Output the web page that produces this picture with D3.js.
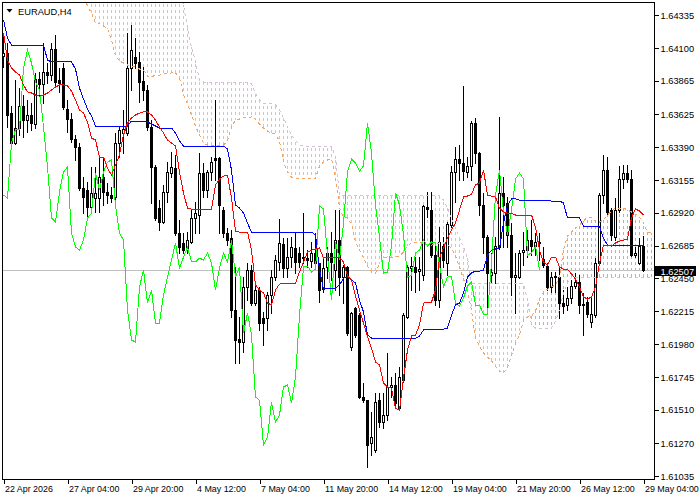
<!DOCTYPE html>
<html><head><meta charset="utf-8">
<script src="https://cdn.jsdelivr.net/npm/d3@7"></script>
<style>
html,body{margin:0;padding:0;background:#fff;}
svg{display:block;}
</style>
</head><body>
<svg id="c" width="700" height="500"></svg>
<script>
// ---------------- DATA (EURAUD, H4) ----------------
const symbolTitle = "EURAUD,H4";
const open = [1.64041,1.64063,1.63633,1.63419,1.63526,1.63683,1.63583,1.63619,1.63555,1.63877,
1.63841,1.63927,1.63905,1.64092,1.63870,1.63956,1.63662,1.63590,1.63447,1.63390,
1.63096,1.63082,1.62960,1.63025,1.63025,1.63175,1.63068,1.63046,1.63032,1.63419,
1.63490,1.63490,1.63956,1.64034,1.63999,1.63862,1.63798,1.63533,1.63247,1.62953,
1.62853,1.63068,1.63204,1.63240,1.62774,1.62703,1.62652,1.62710,1.62882,1.62903,
1.63204,1.63082,1.63211,1.63311,1.63311,1.62939,1.62774,1.62738,1.62223,1.62015,
1.61994,1.62388,1.62509,1.62273,1.62366,1.62166,1.62166,1.62330,1.62459,1.62567,
1.62695,1.62524,1.62602,1.62667,1.62631,1.62602,1.62595,1.62574,1.62631,1.62559,
1.62373,1.62531,1.62631,1.62509,1.62724,1.62459,1.62531,1.61958,1.62237,1.62187,
1.61600,1.61578,1.61271,1.61220,1.61578,1.61421,1.61471,1.61672,1.61686,1.61521,
1.61722,1.62173,1.62524,1.62531,1.62502,1.62473,1.62960,1.62939,1.62617,1.62294,
1.62681,1.62559,1.62831,1.63211,1.63304,1.63275,1.63211,1.63254,1.63562,1.63347,
1.62975,1.62746,1.62473,1.62488,1.62674,1.63061,1.62989,1.62760,1.62459,1.62459,
1.62638,1.62652,1.62724,1.62681,1.62710,1.62588,1.62538,1.62388,1.62459,1.62459,
1.62273,1.62259,1.62309,1.62395,1.62423,1.62266,1.62280,1.62137,1.62187,1.62559,
1.63046,1.63225,1.62939,1.62746,1.62939,1.63161,1.63204,1.63161,1.62617,1.62559,
1.62681];
const high = [1.64206,1.64135,1.63683,1.63870,1.63812,1.63762,1.63726,1.63705,1.63920,1.63927,
1.64135,1.63991,1.64135,1.64192,1.63956,1.63991,1.63726,1.63633,1.63476,1.63419,
1.63175,1.63139,1.63247,1.63247,1.63318,1.63311,1.63132,1.63103,1.63490,1.63533,
1.63655,1.64206,1.64263,1.64170,1.64070,1.63963,1.63834,1.63583,1.63261,1.63010,
1.63118,1.63282,1.63354,1.63333,1.62867,1.62774,1.62781,1.62939,1.62996,1.63347,
1.63275,1.63225,1.63318,1.63726,1.63318,1.62960,1.62810,1.62796,1.62531,1.62173,
1.62459,1.62559,1.62545,1.62402,1.62388,1.62209,1.62352,1.62509,1.62617,1.62874,
1.62738,1.62738,1.62746,1.62774,1.62674,1.62917,1.62652,1.62710,1.62774,1.62559,
1.62595,1.62674,1.62781,1.62939,1.62939,1.62545,1.62538,1.62209,1.62244,1.62201,
1.61700,1.61578,1.61492,1.61629,1.61629,1.61629,1.61915,1.61743,1.61772,1.61815,
1.62201,1.62545,1.62602,1.62602,1.62602,1.62975,1.63068,1.63068,1.62710,1.62817,
1.62746,1.62853,1.63254,1.63390,1.63404,1.63827,1.63318,1.63576,1.63598,1.63354,
1.63061,1.62760,1.62631,1.62746,1.63605,1.63175,1.63032,1.62846,1.62631,1.62652,
1.62781,1.62796,1.62867,1.62774,1.62774,1.62674,1.62559,1.62495,1.62495,1.62531,
1.62366,1.62388,1.62438,1.62488,1.62473,1.62345,1.62316,1.62316,1.62595,1.63061,
1.63333,1.63318,1.62953,1.63025,1.63254,1.63261,1.63261,1.63225,1.62674,1.62738,
1.62753];
const low = [1.63963,1.63533,1.63404,1.63411,1.63476,1.63462,1.63497,1.63512,1.63526,1.63762,
1.63705,1.63848,1.63870,1.63834,1.63784,1.63662,1.63497,1.63426,1.63297,1.63082,
1.62917,1.62889,1.62917,1.62925,1.62925,1.62975,1.62989,1.62996,1.63010,1.63318,
1.63347,1.63476,1.63798,1.63956,1.63712,1.63726,1.63512,1.62989,1.62867,1.62796,
1.62846,1.62996,1.63175,1.62760,1.62631,1.62631,1.62631,1.62703,1.62774,1.62774,
1.63032,1.63032,1.63154,1.63154,1.62774,1.62746,1.62688,1.62173,1.61843,1.61843,
1.61922,1.62294,1.62259,1.62259,1.62080,1.61972,1.62080,1.62201,1.62438,1.62509,
1.62459,1.62459,1.62531,1.62488,1.62531,1.62559,1.62531,1.62531,1.62545,1.62280,
1.62352,1.62452,1.62438,1.62366,1.62330,1.62273,1.62044,1.61936,1.62030,1.61593,
1.61564,1.61099,1.61185,1.61206,1.61385,1.61378,1.61435,1.61600,1.61543,1.61507,
1.61707,1.62166,1.62366,1.62352,1.62366,1.62438,1.62889,1.62602,1.62259,1.62244,
1.62531,1.62473,1.62817,1.62996,1.63154,1.63154,1.63175,1.63154,1.63275,1.62903,
1.62631,1.62244,1.62416,1.62416,1.62660,1.62674,1.62674,1.62330,1.62201,1.62452,
1.62545,1.62602,1.62617,1.62617,1.62581,1.62531,1.62366,1.62352,1.62352,1.62166,
1.62201,1.62223,1.62273,1.62380,1.62201,1.62044,1.62173,1.62101,1.62173,1.62545,
1.62989,1.62910,1.62724,1.62724,1.62925,1.63096,1.63139,1.62609,1.62602,1.62552,
1.62502];
const close = [1.64063,1.63619,1.63419,1.63526,1.63683,1.63583,1.63619,1.63562,1.63877,1.63841,
1.63927,1.63905,1.64092,1.63855,1.63848,1.63676,1.63590,1.63447,1.63390,1.63096,
1.63032,1.62960,1.63061,1.63061,1.63175,1.63068,1.63046,1.63025,1.63419,1.63512,
1.63519,1.63956,1.64084,1.63991,1.63855,1.63798,1.63533,1.63247,1.62882,1.62853,
1.63068,1.63211,1.63247,1.62774,1.62674,1.62652,1.62724,1.62882,1.62917,1.63204,
1.63082,1.63211,1.63282,1.63297,1.62975,1.62774,1.62724,1.62223,1.62008,1.61994,
1.62388,1.62509,1.62273,1.62366,1.62130,1.62130,1.62330,1.62459,1.62581,1.62703,
1.62524,1.62602,1.62674,1.62567,1.62567,1.62595,1.62581,1.62631,1.62559,1.62366,
1.62524,1.62631,1.62567,1.62724,1.62459,1.62531,1.62058,1.62201,1.62044,1.61600,
1.61578,1.61256,1.61314,1.61564,1.61421,1.61471,1.61672,1.61686,1.61557,1.61743,
1.62187,1.62531,1.62538,1.62495,1.62516,1.62967,1.62946,1.62617,1.62294,1.62710,
1.62581,1.62839,1.63211,1.63304,1.63275,1.63218,1.63254,1.63562,1.63347,1.62975,
1.62746,1.62488,1.62495,1.62681,1.63061,1.62975,1.62760,1.62459,1.62473,1.62631,
1.62652,1.62724,1.62681,1.62710,1.62703,1.62545,1.62388,1.62459,1.62466,1.62273,
1.62251,1.62309,1.62395,1.62423,1.62259,1.62259,1.62194,1.62194,1.62559,1.63046,
1.63225,1.62925,1.62760,1.62939,1.63161,1.63204,1.63161,1.62617,1.62631,1.62681,
1.62507];
// Ichimoku (9, 26, 52)
const tenkan = [1.64206,1.64013,1.63956,1.63927,1.63905,1.63834,1.63784,1.63777,1.63762,1.63755,
1.63762,1.63777,1.63798,1.63820,1.63834,1.63834,1.63827,1.63791,1.63726,1.63655,
1.63633,1.63569,1.63454,1.63440,1.63318,1.63318,1.63240,1.63189,1.63261,1.63333,
1.63476,1.63562,1.63598,1.63619,1.63633,1.63641,1.63641,1.63619,1.63583,1.63533,
1.63490,1.63440,1.63419,1.63397,1.63211,1.63061,1.62953,1.62946,1.62946,1.62946,
1.62946,1.62946,1.62946,1.63118,1.63161,1.63182,1.63189,1.63025,1.62788,1.62781,
1.62781,1.62781,1.62652,1.62402,1.62366,1.62345,1.62273,1.62259,1.62366,1.62409,
1.62416,1.62416,1.62416,1.62416,1.62495,1.62567,1.62638,1.62652,1.62660,1.62667,
1.62595,1.62602,1.62602,1.62602,1.62602,1.62567,1.62466,1.62438,1.62323,1.62223,
1.62130,1.62030,1.61951,1.61851,1.61829,1.61700,1.61672,1.61664,1.61521,1.61507,
1.61736,1.61936,1.62037,1.62044,1.62115,1.62273,1.62280,1.62280,1.62366,1.62595,
1.62667,1.62738,1.62796,1.62846,1.62939,1.63032,1.63039,1.63053,1.63118,1.63132,
1.63225,1.63046,1.63039,1.63032,1.62953,1.62925,1.62917,1.62917,1.62903,1.62903,
1.62903,1.62903,1.62903,1.62817,1.62652,1.62567,1.62545,1.62602,1.62602,1.62531,
1.62516,1.62516,1.62481,1.62445,1.62388,1.62316,1.62302,1.62316,1.62388,1.62559,
1.62688,1.62688,1.62681,1.62703,1.62717,1.62724,1.62731,1.62882,1.62946,1.62932,
1.62903];
const kijun = [1.64299,1.64170,1.64120,1.64120,1.64120,1.64120,1.64120,1.64120,1.64120,1.64120,
1.64120,1.64013,1.63999,1.63999,1.63999,1.63999,1.63999,1.63999,1.63948,1.63812,
1.63734,1.63662,1.63612,1.63540,1.63540,1.63540,1.63540,1.63540,1.63540,1.63540,
1.63540,1.63540,1.63576,1.63576,1.63576,1.63576,1.63569,1.63555,1.63540,1.63526,
1.63526,1.63526,1.63526,1.63490,1.63433,1.63397,1.63397,1.63397,1.63397,1.63397,
1.63397,1.63397,1.63397,1.63397,1.63397,1.63397,1.63376,1.63225,1.62975,1.62953,
1.62917,1.62846,1.62781,1.62781,1.62781,1.62781,1.62781,1.62781,1.62781,1.62781,
1.62781,1.62781,1.62781,1.62781,1.62781,1.62781,1.62781,1.62781,1.62760,1.62509,
1.62373,1.62380,1.62380,1.62380,1.62402,1.62452,1.62459,1.62438,1.62416,1.62294,
1.62209,1.62044,1.62022,1.62022,1.62022,1.62022,1.62022,1.62022,1.62022,1.62022,
1.62022,1.62022,1.62022,1.62022,1.62037,1.62080,1.62087,1.62087,1.62087,1.62087,
1.62087,1.62094,1.62187,1.62259,1.62273,1.62345,1.62459,1.62488,1.62502,1.62502,
1.62509,1.62617,1.62652,1.62660,1.62667,1.62846,1.62975,1.63018,1.63018,1.63010,
1.63010,1.63010,1.63010,1.63010,1.63010,1.63010,1.63010,1.63003,1.63003,1.63003,
1.62989,1.62882,1.62882,1.62882,1.62882,1.62824,1.62824,1.62824,1.62824,1.62824,
1.62738,1.62688,1.62688,1.62688,1.62688,1.62688,1.62688,1.62688,1.62688,1.62688,
1.62688];
// Senkou spans (shifted 26 bars forward), first visible at bar 20
const spanStart = 20;
const senkouA = [1.64457,1.64399,1.64349,1.64278,1.64271,1.64256,1.64235,1.64156,1.64041,1.64006,
1.63991,1.63977,1.63970,1.63963,1.63948,1.63941,1.63898,1.63891,1.63905,1.63905,
1.63913,1.63913,1.63920,1.63920,1.63884,1.63762,1.63698,1.63619,1.63540,1.63476,
1.63419,1.63404,1.63404,1.63404,1.63404,1.63404,1.63433,1.63533,1.63583,1.63590,
1.63598,1.63598,1.63605,1.63590,1.63555,1.63526,1.63504,1.63490,1.63483,1.63433,
1.63282,1.63211,1.63175,1.63168,1.63168,1.63168,1.63168,1.63168,1.63168,1.63254,
1.63282,1.63297,1.63304,1.63175,1.62953,1.62889,1.62882,1.62839,1.62710,1.62652,
1.62595,1.62538,1.62495,1.62488,1.62552,1.62595,1.62602,1.62602,1.62602,1.62609,
1.62638,1.62681,1.62703,1.62710,1.62710,1.62695,1.62688,1.62688,1.62695,1.62703,
1.62703,1.62688,1.62667,1.62609,1.62531,1.62445,1.62359,1.62223,1.62022,1.61965,
1.61915,1.61886,1.61858,1.61822,1.61786,1.61772,1.61815,1.61893,1.61987,1.62044,
1.62151,1.62173,1.62180,1.62216,1.62302,1.62352,1.62373,1.62388,1.62402,1.62459,
1.62652,1.62753,1.62781,1.62810,1.62831,1.62860,1.62889,1.62882,1.62860,1.62853,
1.62867,1.62903,1.62932,1.62953,1.62953,1.62953,1.62939,1.62925,1.62910,1.62889,
1.62846,1.62781,1.62774];
const senkouB = [1.64514,1.64514,1.64514,1.64514,1.64514,1.64514,1.64514,1.64514,1.64514,1.64514,
1.64514,1.64514,1.64514,1.64514,1.64514,1.64514,1.64514,1.64514,1.64514,1.64514,
1.64514,1.64514,1.64514,1.64514,1.64514,1.64407,1.64242,1.64106,1.63999,1.63870,
1.63855,1.63855,1.63855,1.63855,1.63855,1.63855,1.63855,1.63855,1.63855,1.63855,
1.63855,1.63855,1.63841,1.63777,1.63726,1.63705,1.63698,1.63698,1.63691,1.63655,
1.63598,1.63533,1.63476,1.63440,1.63404,1.63397,1.63397,1.63397,1.63397,1.63397,
1.63397,1.63397,1.63397,1.63318,1.63046,1.63046,1.63046,1.63046,1.63046,1.63046,
1.63046,1.63046,1.63046,1.63046,1.63046,1.63046,1.63046,1.63046,1.63046,1.63046,
1.63046,1.63046,1.63046,1.63046,1.63046,1.63046,1.63046,1.63046,1.63046,1.63046,
1.63010,1.62953,1.62882,1.62810,1.62738,1.62674,1.62595,1.62416,1.62416,1.62416,
1.62416,1.62416,1.62416,1.62416,1.62416,1.62416,1.62416,1.62416,1.62416,1.62416,
1.62409,1.62294,1.62115,1.62094,1.62094,1.62094,1.62094,1.62094,1.62144,1.62223,
1.62345,1.62416,1.62459,1.62459,1.62459,1.62459,1.62459,1.62459,1.62459,1.62459,
1.62459,1.62459,1.62459,1.62459,1.62459,1.62459,1.62459,1.62459,1.62459,1.62459,
1.62459,1.62459,1.62459];
const chikouShift = 26;
const priceTicks = [1.64335,1.64100,1.63865,1.63625,1.63390,1.63155,1.62920,1.62685,1.62450,1.62215,1.61980,1.61745,1.61510,1.61270,1.61035];
const timeLabels = ["22 Apr 2026","27 Apr 04:00","29 Apr 20:00","4 May 12:00","7 May 04:00","11 May 20:00","14 May 12:00","19 May 04:00","21 May 20:00","26 May 12:00","29 May 04:00"];
const timeLabelBars = [0,16,32,48,64,80,96,112,128,144,160];

// ---------------- DRAW ----------------
const FONT = "'Liberation Sans', Arial, sans-serif";
const FS = 9.3;
const svg = d3.select("#c");
const n = close.length;
const x = d3.scaleLinear().domain([0, n - 1]).range([3.5, 643.5]);
const y = d3.scaleLinear().domain([1.61035, 1.64335]).range([476, 15]);

svg.append("rect").attr("width", 700).attr("height", 500).attr("fill", "#fff");
svg.append("defs").append("clipPath").attr("id", "plotclip")
  .append("rect").attr("x", 3).attr("y", 3).attr("width", 651).attr("height", 476);
const g = svg.append("g").attr("clip-path", "url(#plotclip)");

// Kumo hatch (vertical dashed line per bar, dashes aligned in rows)
const cloud = senkouA.map((a, i) => ({ i: i + spanStart, a, b: senkouB[i] }));
g.append("g").attr("shape-rendering", "crispEdges").selectAll("line").data(cloud).join("line")
  .attr("x1", d => x(d.i)).attr("x2", d => x(d.i))
  .attr("y1", d => Math.round(y(Math.max(d.a, d.b))))
  .attr("y2", d => Math.round(y(Math.min(d.a, d.b))))
  .attr("stroke", d => d.a >= d.b ? "#F4A460" : "#D8BFD8")
  .attr("stroke-width", 1)
  .attr("stroke-dasharray", "3,3")
  .attr("stroke-dashoffset", d => { const v = Math.round(y(Math.max(d.a, d.b))) - 4; return ((v % 6) + 6) % 6; });

// Bid line
const lastY = Math.round(y(close[n - 1])) + 0.5;
g.append("line").attr("x1", 3).attr("x2", 654).attr("y1", lastY).attr("y2", lastY)
  .attr("stroke", "#C0C0C0").attr("shape-rendering", "crispEdges");

// Candles
const cd = close.map((c, i) => ({ i, o: open[i], h: high[i], l: low[i], c }));
const cg = g.append("g").attr("shape-rendering", "crispEdges");
cg.selectAll("line.wick").data(cd).join("line").attr("class", "wick")
  .attr("x1", d => x(d.i)).attr("x2", d => x(d.i))
  .attr("y1", d => Math.round(y(d.h))).attr("y2", d => Math.round(y(d.l)) + 1)
  .attr("stroke", "#000");
cg.selectAll("rect.bull").data(cd.filter(d => d.c >= d.o)).join("rect").attr("class", "bull")
  .attr("x", d => x(d.i) - 1).attr("width", 2)
  .attr("y", d => Math.round(y(d.c)) + 0.5)
  .attr("height", d => Math.max(Math.round(y(d.o)) - Math.round(y(d.c)), 1))
  .attr("fill", "#fff").attr("stroke", "#000");
cg.selectAll("rect.bear").data(cd.filter(d => d.c < d.o)).join("rect").attr("class", "bear")
  .attr("x", d => x(d.i) - 1.5).attr("width", 3)
  .attr("y", d => Math.round(y(d.o)))
  .attr("height", d => Math.max(Math.round(y(d.c)) - Math.round(y(d.o)), 0) + 1)
  .attr("fill", "#000");

// Ichimoku lines
const line = d3.line().x(d => x(d[0])).y(d => y(d[1]));
function drawLine(pts, color, dash) {
  const p = g.append("path").datum(pts).attr("d", line)
    .attr("fill", "none").attr("stroke", color).attr("stroke-width", 1)
    .attr("shape-rendering", "crispEdges");
  if (dash) p.attr("stroke-dasharray", dash);
}
drawLine(senkouA.map((v, i) => [i + spanStart, v]), "#F4A460", "3,3");
drawLine(senkouB.map((v, i) => [i + spanStart, v]), "#D8BFD8", "3,3");
drawLine(close.slice(chikouShift).map((v, i) => [i, v]), "#00FF00");
drawLine(kijun.map((v, i) => [i, v]), "#0000FF");
drawLine(tenkan.map((v, i) => [i, v]), "#FF0000");

// Frame
svg.append("rect").attr("x", 2.5).attr("y", 2.5).attr("width", 652).attr("height", 477)
  .attr("fill", "none").attr("stroke", "#000").attr("shape-rendering", "crispEdges");

// Right price axis
const ya = svg.append("g").attr("transform", "translate(654.5,0)")
  .call(d3.axisRight(y).tickValues(priceTicks).tickSize(4).tickSizeOuter(0).tickPadding(2)
    .tickFormat(d3.format(".5f")));
ya.select(".domain").remove();
ya.attr("font-family", FONT).attr("font-size", FS);
ya.selectAll("line").attr("stroke", "#000").attr("shape-rendering", "crispEdges");
ya.selectAll("text").attr("fill", "#000").attr("dy", "0.35em");

// Bottom time axis
const xa = svg.append("g").attr("transform", "translate(0,479.5)")
  .call(d3.axisBottom(x).tickValues(timeLabelBars).tickSize(4).tickSizeOuter(0)
    .tickFormat((d, i) => timeLabels[i]));
xa.select(".domain").remove();
xa.attr("font-family", FONT).attr("font-size", 8.9);
xa.selectAll("line").attr("stroke", "#000").attr("shape-rendering", "crispEdges");
xa.selectAll("text").attr("fill", "#000").attr("text-anchor", "start")
  .attr("x", 1).attr("y", 12.5).attr("dy", 0);

// Current price label
const lp = close[n - 1];
const lpY = y(lp);
svg.append("rect").attr("x", 655).attr("y", Math.round(lpY) - 4).attr("width", 41).attr("height", 10)
  .attr("fill", "#000");
svg.append("text").attr("x", 660.5).attr("y", Math.round(lpY) + 4.5)
  .attr("font-family", FONT).attr("font-size", FS).attr("fill", "#fff")
  .text(d3.format(".5f")(lp));

// Title
svg.append("path").attr("d", "M6.5,9 L12.5,9 L9.5,12.5 Z").attr("fill", "#000");
svg.append("text").attr("x", 18).attr("y", 15).attr("font-family", FONT).attr("font-size", FS)
  .attr("fill", "#000").text(symbolTitle);
</script>
</body></html>
